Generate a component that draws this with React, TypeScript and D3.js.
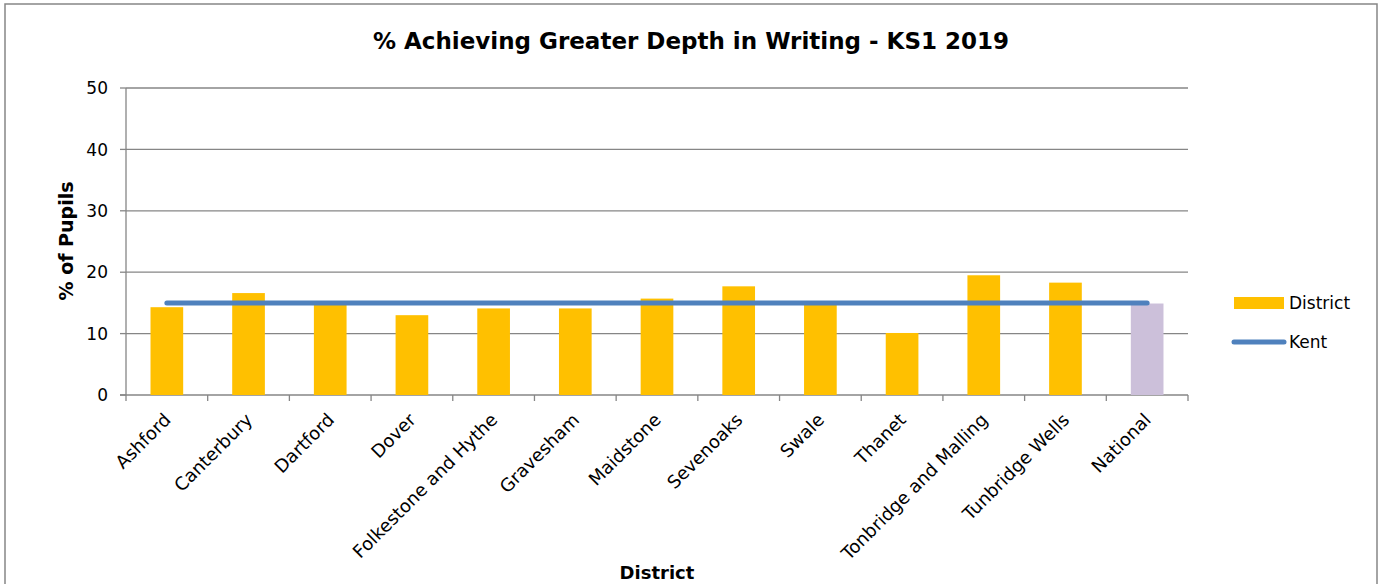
import React from "react";
import * as d3 from "d3";

const categories = [
  "Ashford",
  "Canterbury",
  "Dartford",
  "Dover",
  "Folkestone and Hythe",
  "Gravesham",
  "Maidstone",
  "Sevenoaks",
  "Swale",
  "Thanet",
  "Tonbridge and Malling",
  "Tunbridge Wells",
  "National",
];
const districtValues = [14.3, 16.6, 14.8, 13.0, 14.1, 14.1, 15.7, 17.7, 14.9, 10.1, 19.5, 18.3, 14.9];
const kentValues = [15.0, 15.0, 15.0, 15.0, 15.0, 15.0, 15.0, 15.0, 15.0, 15.0, 15.0, 15.0, 15.0];
const yTicks = [0, 10, 20, 30, 40, 50];

const W = 1383;
const H = 584;
const FONT = "'DejaVu Sans', Verdana, sans-serif";

export default function App() {
  const left = 126, right = 1188, top = 88, bottom = 395;
  const x = d3.scaleBand<string>().domain(categories).range([left, right]).paddingInner(0.6).paddingOuter(0.3);
  const y = d3.scaleLinear().domain([0, 50]).range([bottom, top]);
  const step = x.step();
  const cx = (c: string) => (x(c) as number) + x.bandwidth() / 2;
  const line = d3
    .line<number>()
    .x((_, i) => cx(categories[i]))
    .y((d) => y(d));
  const boundaries = d3.range(categories.length + 1).map((i) => left + i * step);
  const grid = "#868686";

  return (
    <svg width={W} height={H} style={{ position: "absolute", left: 0, top: 0, background: "#fff" }}>
      <rect x={5} y={4} width={1372} height={H + 10} fill="#fff" stroke={grid} strokeWidth={1.5} />
      <text x={691} y={49} textAnchor="middle" fontFamily={FONT} fontWeight="bold" fontSize={23} fill="#000">
        % Achieving Greater Depth in Writing - KS1 2019
      </text>
      {yTicks.map((t) => (
        <g key={t}>
          {t > 0 && <line x1={left} x2={right} y1={y(t)} y2={y(t)} stroke={grid} strokeWidth={1.3} />}
          <line x1={left - 6} x2={left} y1={y(t)} y2={y(t)} stroke={grid} strokeWidth={1.3} />
          <text x={108} y={y(t)} dy="0.36em" textAnchor="end" fontFamily={FONT} fontSize={17} fill="#000">
            {t}
          </text>
        </g>
      ))}
      <line x1={left} x2={left} y1={top} y2={bottom} stroke={grid} strokeWidth={1.3} />
      <line x1={left - 6} x2={right} y1={bottom} y2={bottom} stroke={grid} strokeWidth={1.3} />
      {boundaries.map((b, i) => (
        <line key={i} x1={b} x2={b} y1={bottom} y2={bottom + 6} stroke={grid} strokeWidth={1.3} />
      ))}
      {categories.map((c, i) => (
        <rect
          key={c}
          x={x(c)}
          y={y(districtValues[i])}
          width={x.bandwidth()}
          height={bottom - y(districtValues[i])}
          fill={c === "National" ? "#ccc0da" : "#ffc000"}
        />
      ))}
      <path d={line(kentValues) as string} fill="none" stroke="#4f81bd" strokeWidth={5} strokeLinecap="round" />
      {categories.map((c) => (
        <text
          key={c}
          transform={`translate(${cx(c) + 5},${bottom + 26}) rotate(-45)`}
          textAnchor="end"
          fontFamily={FONT}
          fontSize={18}
          fill="#000"
        >
          {c}
        </text>
      ))}
      <text
        transform={`translate(73,241) rotate(-90)`}
        textAnchor="middle"
        fontFamily={FONT}
        fontWeight="bold"
        fontSize={19}
        fill="#000"
      >
        % of Pupils
      </text>
      <text x={657} y={579} textAnchor="middle" fontFamily={FONT} fontWeight="bold" fontSize={18} fill="#000">
        District
      </text>
      <rect x={1234} y={297} width={50} height={12} fill="#ffc000" />
      <text x={1289} y={309} fontFamily={FONT} fontSize={17} fill="#000">
        District
      </text>
      <line x1={1234} x2={1284} y1={342} y2={342} stroke="#4f81bd" strokeWidth={5} strokeLinecap="round" />
      <text x={1289} y={348} fontFamily={FONT} fontSize={17} fill="#000">
        Kent
      </text>
    </svg>
  );
}
